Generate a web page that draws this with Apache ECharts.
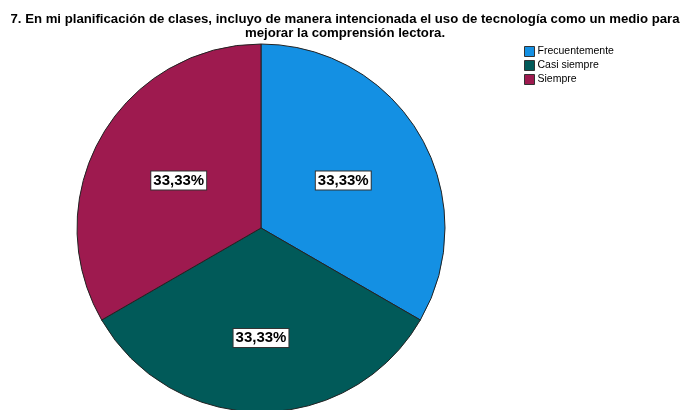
<!DOCTYPE html>
<html>
<head>
<meta charset="utf-8">
<script src="https://cdn.jsdelivr.net/npm/echarts@6/dist/echarts.min.js"></script>
<style>
  html, body { margin: 0; padding: 0; background: #fff; }
  #main { width: 684px; height: 410px; }
</style>
</head>
<body>
<div id="main"></div>
<script>
// categorías y valores
var categories = ["Frecuentemente", "Casi siempre", "Siempre"];
var counts = [1, 1, 1];
var colors = ["#1490e3", "#015a59", "#9e1a4f"];

var total = counts.reduce(function (a, b) { return a + b; }, 0);

var chart = echarts.init(document.getElementById("main"));

var pieData = categories.map(function (name, i) {
  var item = { name: name, value: counts[i], itemStyle: { color: colors[i] } };
  // la etiqueta de abajo va un poco más baja en el original
  if (i === 1) item.label = { offset: [0, 15] };
  return item;
});

var option = {
  animation: false,
  title: {
    text: "7. En mi planificación de clases, incluyo de manera intencionada el uso de tecnología como un medio para\nmejorar la comprensión lectora.",
    left: 340,
    top: 7,
    textAlign: "center",
    textStyle: {
      fontFamily: "Liberation Sans",
      fontSize: 13.2,
      fontWeight: "bold",
      color: "#000",
      lineHeight: 14
    }
  },
  legend: {
    orient: "vertical",
    left: 519,
    top: 41,
    itemWidth: 10,
    itemHeight: 10,
    itemGap: 3,
    icon: "rect",
    itemStyle: { borderColor: "#333", borderWidth: 1 },
    textStyle: { fontFamily: "Liberation Sans", fontSize: 10.5, color: "#000", padding: [0, 0, 0, -2] },
    data: categories
  },
  series: [
    {
      type: "pie",
      center: [261, 228],
      radius: 184,
      startAngle: 90,
      clockwise: true,
      data: pieData,
      itemStyle: { borderColor: "#222", borderWidth: 1 },
      emphasis: { disabled: true },
      label: {
        show: true,
        position: "inside",
        formatter: function (p) {
          return (p.value / total * 100).toFixed(2).replace(".", ",") + "%";
        },
        fontFamily: "Liberation Sans",
        fontSize: 15,
        fontWeight: "bold",
        color: "#000",
        backgroundColor: "#fff",
        borderColor: "#333",
        borderWidth: 1,
        padding: [2, 2, 1, 2]
      },
      labelLine: { show: false }
    }
  ]
};

chart.setOption(option);
</script>
</body>
</html>
